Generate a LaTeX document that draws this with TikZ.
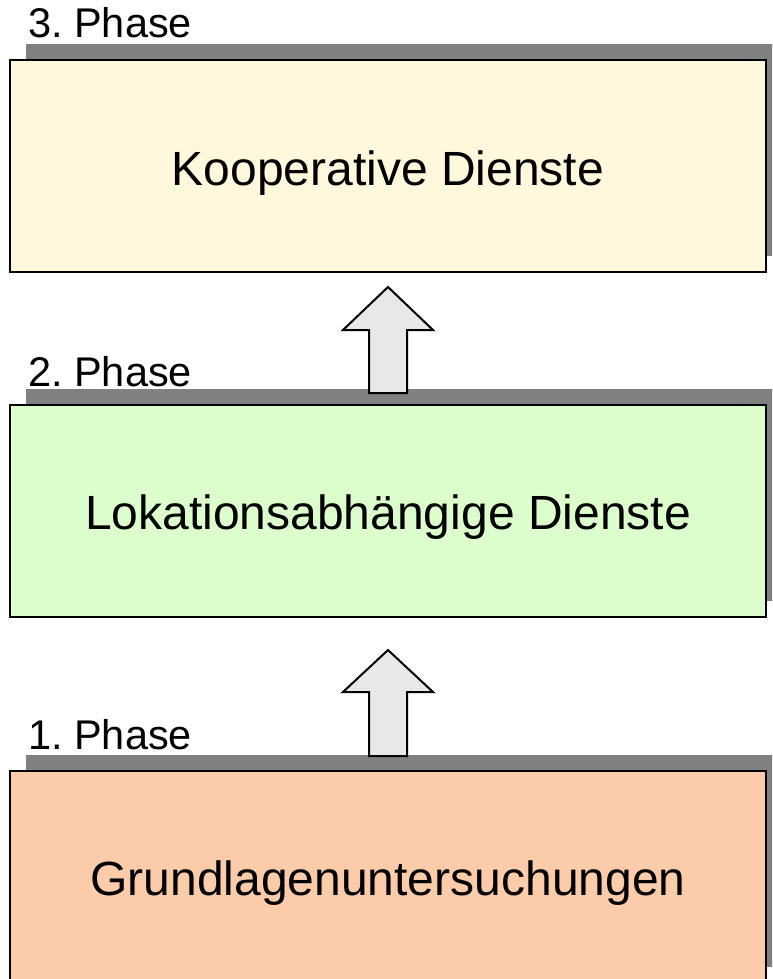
\documentclass[tikz,border=0pt]{standalone}
\usepackage{fontspec}
\setmainfont{Liberation Sans}
\usetikzlibrary{shadows}
\frenchspacing

\definecolor{phaseyellow}{HTML}{FFF8DC}
\definecolor{phasegreen}{HTML}{DCFECC}
\definecolor{phasepeach}{HTML}{FBCBAA}
\definecolor{shadowgray}{HTML}{808080}
\definecolor{arrowgray}{HTML}{E8E8E8}

\tikzset{
  phasebox/.style={draw=black, line width=2.2pt, minimum width=756pt, minimum height=212pt,
    inner sep=0pt, outer sep=0pt,
    general shadow={shadow xshift=16pt, shadow yshift=16pt, fill=shadowgray, opacity=1}},
  boxtext/.style={anchor=base, font=\fontsize{48}{56}\selectfont, inner sep=0pt},
  phaselabel/.style={anchor=base west, font=\fontsize{41.5}{48}\selectfont, inner sep=0pt},
  uparrow/.style={fill=arrowgray, draw=black, line width=2pt, line join=miter},
}

\begin{document}
\begin{tikzpicture}[x=1pt, y=-1pt]
  \useasboundingbox (0,0) rectangle (772,979);
  \clip (0,0) rectangle (772,979);

  % phase boxes with their gray offset shadows
  \node[phasebox, fill=phaseyellow] (p3) at (388,166) {};
  \node[phasebox, fill=phasegreen]  (p2) at (388,511) {};
  \node[phasebox, fill=phasepeach]  (p1) at (388,877) {};

  % box titles
  \node[boxtext] (t3) at (388,185) {Kooperative Dienste};
  \node[boxtext] (t2) at (388,529) {Lokationsabhängige Dienste};
  \node[boxtext] (t1) at (388,895) {Grundlagenuntersuchungen};

  % phase labels above the boxes
  \node[phaselabel] (l3) at (28,38)  {3. Phase};
  \node[phaselabel] (l2) at (28,386) {2. Phase};
  \node[phaselabel] (l1) at (28,749) {1. Phase};

  % block arrows leading upward from phase to phase
  \coordinate (a2tip) at (388,287);
  \coordinate (a1tip) at (388,650);
  \draw[uparrow] (a2tip) -- ++(45,43) -- ++(-26,0) -- ++(0,63) -- ++(-38,0)
    -- ++(0,-63) -- ++(-26,0) -- cycle;
  \draw[uparrow] (a1tip) -- ++(45,42) -- ++(-26,0) -- ++(0,64) -- ++(-38,0)
    -- ++(0,-64) -- ++(-26,0) -- cycle;
\end{tikzpicture}
\end{document}
